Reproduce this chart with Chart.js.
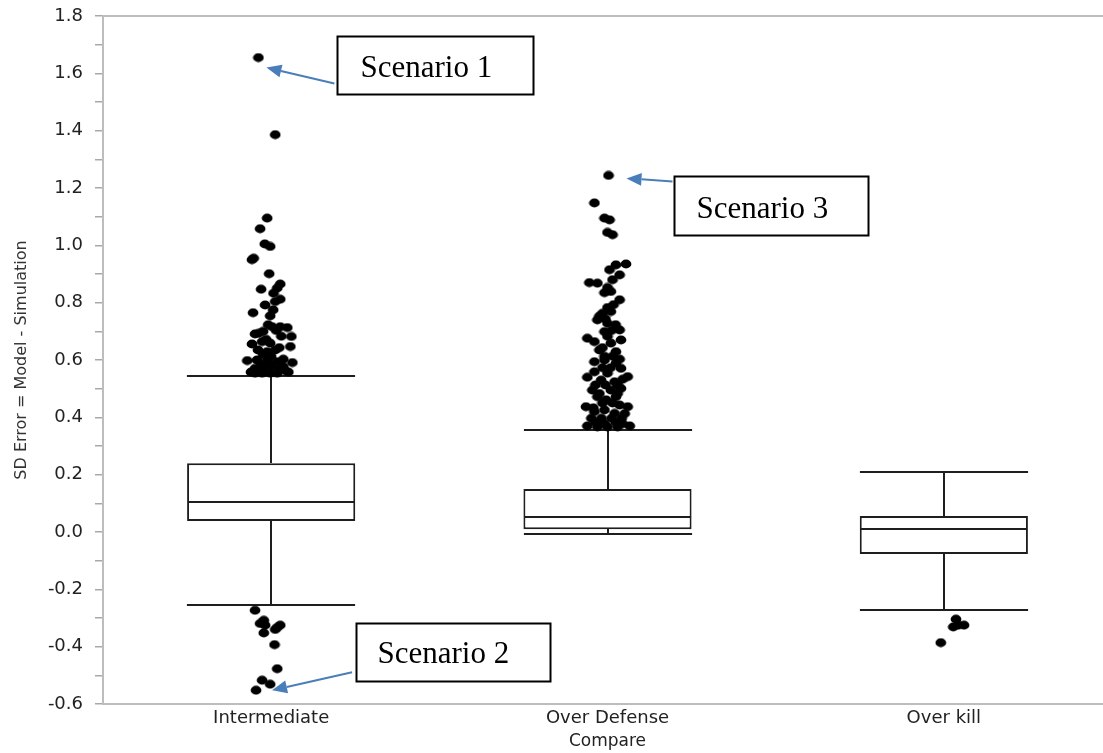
<!DOCTYPE html>
<html>
<head>
<meta charset="utf-8">
<script src="https://cdn.jsdelivr.net/npm/chart.js@4.4.1/dist/chart.umd.min.js"></script>
<style>
  html, body { margin: 0; padding: 0; overflow: hidden; background: #fff; }
  #wrap { width: 1118px; height: 753px; }
  canvas { display: block; }
</style>
</head>
<body>
<div id="wrap"><canvas id="chart" width="1118" height="753"></canvas></div>
<script>
// Groups on the x axis
const categories = ['Intermediate', 'Over Defense', 'Over kill'];

// Box-plot summary per group
const lowerWhisker = [-0.255, -0.007, -0.272];
const quartile1    = [0.038, 0.010, -0.077];
const medians      = [0.106, 0.052, 0.009];
const quartile3    = [0.240, 0.150, 0.056];
const upperWhisker = [0.545, 0.356, 0.208];

// Outliers per group, with their horizontal jitter (fraction of a category width)
const intermediateOutliers = [
  1.655, 1.386, 1.095, 1.058, 1.005, 0.996, 0.955, 0.950, 0.901, 0.865, 0.851, 0.847, 0.833, 0.812,
  0.804, 0.792, 0.765, 0.775, 0.754, 0.716, 0.716, 0.713, 0.691, 0.693, 0.682, 0.656, 0.664, 0.659,
  0.647, 0.635, 0.629, 0.635, 0.598, 0.600, 0.600, 0.594, 0.591, 0.571, 0.571, 0.577, 0.571, 0.554,
  0.554, 0.554, 0.554, 0.620, 0.603, 0.583, 0.563, 0.612, 0.643, 0.672, 0.703, 0.723, 0.558, 0.558,
  0.587, 0.577, 0.700, 0.683,
  -0.273, -0.308, -0.319, -0.325, -0.325, -0.333, -0.340, -0.352, -0.393, -0.477, -0.517, -0.531, -0.552
];
const intermediateJitter = [
  -0.038, 0.012, -0.012, -0.033, -0.019, -0.003, -0.052, -0.057, -0.006, 0.027, 0.018, -0.030, 0.007, 0.027,
  0.012, -0.018, -0.054, 0.006, -0.003, 0.003, 0.027, 0.048, -0.048, -0.037, 0.060, -0.057, -0.027, -0.003,
  0.057, -0.039, -0.012, 0.012, -0.071, -0.042, -0.012, 0.018, 0.063, -0.048, -0.022, 0.003, 0.027, -0.048,
  -0.027, -0.003, 0.018, -0.024, 0.036, -0.030, 0.042, 0.000, 0.024, -0.015, 0.015, -0.009, -0.060, 0.051,
  -0.006, 0.036, -0.024, 0.030,
  -0.048, -0.022, -0.033, -0.018, 0.027, 0.018, 0.012, -0.022, 0.010, 0.018, -0.027, -0.003, -0.045
];

const overDefenseOutliers = [
  1.244, 1.148, 1.095, 1.089, 1.045, 1.037, 0.935, 0.932, 0.915, 0.897, 0.880, 0.870, 0.868, 0.835,
  0.839, 0.810, 0.763, 0.769, 0.740, 0.728, 0.705, 0.699, 0.676, 0.664, 0.670, 0.659, 0.635, 0.629,
  0.600, 0.594, 0.589, 0.571, 0.540, 0.559, 0.542, 0.554, 0.530, 0.524, 0.495, 0.495, 0.501, 0.472,
  0.461, 0.472, 0.437, 0.437, 0.420, 0.426, 0.414, 0.397, 0.397, 0.397, 0.397, 0.370, 0.367, 0.367,
  0.367, 0.370, 0.383, 0.383, 0.450, 0.450, 0.483, 0.483, 0.513, 0.513, 0.513, 0.573, 0.573, 0.613,
  0.613, 0.643, 0.683, 0.703, 0.723, 0.743, 0.783, 0.793, 0.753, 0.603, 0.533, 0.443, 0.413, 0.433,
  0.378, 0.378, 0.853
];
const overDefenseJitter = [
  0.003, -0.039, -0.009, 0.006, 0.000, 0.015, 0.055, 0.025, 0.006, 0.036, 0.015, -0.054, -0.030, -0.009,
  0.010, 0.036, -0.015, 0.010, -0.030, 0.000, 0.036, -0.009, -0.060, -0.039, 0.040, 0.010, -0.024, 0.025,
  -0.009, -0.039, 0.025, 0.040, -0.060, -0.039, 0.060, 0.000, -0.019, 0.021, -0.045, 0.010, 0.040, -0.030,
  -0.004, 0.025, -0.064, 0.060, -0.039, -0.009, 0.021, -0.048, -0.018, 0.012, 0.042, -0.060, -0.030, 0.000,
  0.030, 0.066, -0.036, 0.024, -0.015, 0.015, -0.024, 0.030, -0.006, 0.030, -0.036, -0.015, 0.009, -0.009,
  0.015, -0.015, 0.000, 0.012, 0.024, -0.006, 0.000, 0.018, -0.024, 0.036, 0.045, 0.036, 0.051, -0.042,
  -0.009, 0.045, 0.000
];

const overKillOutliers = [-0.304, -0.331, -0.325, -0.325, -0.386];
const overKillJitter   = [0.036, 0.028, 0.043, 0.060, -0.009];

// Y axis range and tick spacing
const yMin = -0.6, yMax = 1.8, yStep = 0.1;

const outlierSets = [
  [intermediateOutliers, intermediateJitter],
  [overDefenseOutliers, overDefenseJitter],
  [overKillOutliers, overKillJitter]
];

const outlierPoints = [];
outlierSets.forEach(([vals, jit], i) => {
  vals.forEach((v, k) => outlierPoints.push({ x: i + jit[k], y: v }));
});

// Callout boxes: pointing at a given outlier (group index, position in that group's list)
const callouts = [
  { text: 'Scenario 1', group: 0, index: 0, tip: [8, 10], tail: [76, 26], box: [79, -22, 196, 58], textAt: [23, 40] },
  { text: 'Scenario 3', group: 1, index: 0, tip: [18, 3], tail: [64, 6], box: [65, 1, 194, 59], textAt: [22, 41] },
  { text: 'Scenario 2', group: 0, index: intermediateOutliers.length - 1, tip: [16, 0], tail: [96, -18], box: [100, -67, 194, 58], textAt: [21, 39] }
];

// Slightly wide oval dot used for outliers
function makeDot() {
  const c = document.createElement('canvas');
  c.width = 12; c.height = 10;
  const g = c.getContext('2d');
  g.fillStyle = '#000';
  g.beginPath();
  g.ellipse(6, 5, 5.4, 4.4, 0, 0, Math.PI * 2);
  g.fill();
  return c;
}

const LINE = '#1e1e1e';
const AXIS_GRAY = '#bdbdbd';
const TEXT = '#222222';

// Whiskers, caps and median lines, drawn right after the boxes
const whiskerPlugin = {
  id: 'whiskers',
  afterDatasetDraw(chart, args) {
    if (args.index !== 1) return;
    const { ctx } = chart;
    const y = chart.scales.y;
    const meta = chart.getDatasetMeta(1);
    ctx.save();
    ctx.strokeStyle = LINE;
    ctx.lineWidth = 2;
    ctx.lineCap = 'butt';
    meta.data.forEach((bar, i) => {
      const cx = Math.round(bar.x);
      const half = bar.width / 2;
      const yHi = Math.round(y.getPixelForValue(upperWhisker[i]));
      const yLo = Math.round(y.getPixelForValue(lowerWhisker[i]));
      const yQ3 = Math.round(y.getPixelForValue(quartile3[i]));
      const yQ1 = Math.round(y.getPixelForValue(quartile1[i]));
      const yMed = Math.round(y.getPixelForValue(medians[i]));
      ctx.beginPath();
      ctx.moveTo(cx, yQ3); ctx.lineTo(cx, yHi);
      ctx.moveTo(cx, yQ1); ctx.lineTo(cx, yLo);
      ctx.moveTo(cx - half, yHi); ctx.lineTo(cx + half, yHi);
      ctx.moveTo(cx - half, yLo); ctx.lineTo(cx + half, yLo);
      ctx.moveTo(cx - half + 1, yMed); ctx.lineTo(cx + half - 1, yMed);
      ctx.stroke();
    });
    ctx.restore();
  }
};

// Top frame line of the plot area
const framePlugin = {
  id: 'frame',
  beforeDatasetsDraw(chart) {
    const { ctx, chartArea } = chart;
    ctx.save();
    ctx.strokeStyle = AXIS_GRAY;
    ctx.lineWidth = 2;
    ctx.beginPath();
    ctx.moveTo(chartArea.left, chartArea.top);
    ctx.lineTo(chartArea.right, chartArea.top);
    ctx.stroke();
    ctx.restore();
  }
};

// Labelled callout boxes with blue arrows
const calloutPlugin = {
  id: 'callouts',
  afterDraw(chart) {
    const { ctx } = chart;
    const xs = chart.scales.xd, ys = chart.scales.y;
    ctx.save();
    callouts.forEach(c => {
      const [vals, jit] = outlierSets[c.group];
      const px = xs.getPixelForValue(c.group + jit[c.index]);
      const py = ys.getPixelForValue(vals[c.index]);
      const tx = px + c.tip[0], ty = py + c.tip[1];
      const sx = px + c.tail[0], sy = py + c.tail[1];
      const ang = Math.atan2(ty - sy, tx - sx);
      const headLen = 15, headHalf = 6.5;
      const bx = tx - headLen * Math.cos(ang), by = ty - headLen * Math.sin(ang);
      ctx.strokeStyle = '#4a7ebb';
      ctx.fillStyle = '#4a7ebb';
      ctx.lineWidth = 2;
      ctx.beginPath();
      ctx.moveTo(sx, sy);
      ctx.lineTo(bx, by);
      ctx.stroke();
      ctx.beginPath();
      ctx.moveTo(tx, ty);
      ctx.lineTo(bx + headHalf * Math.sin(ang), by - headHalf * Math.cos(ang));
      ctx.lineTo(bx - headHalf * Math.sin(ang), by + headHalf * Math.cos(ang));
      ctx.closePath();
      ctx.fill();

      const [ox, oy, w, h] = c.box;
      const rx = Math.round(px + ox) + 0.5, ry = Math.round(py + oy) + 0.5;
      ctx.fillStyle = '#fff';
      ctx.fillRect(rx, ry, w, h);
      ctx.strokeStyle = '#000';
      ctx.lineWidth = 2;
      ctx.strokeRect(rx, ry, w, h);
      ctx.fillStyle = '#000';
      ctx.font = '31px "Liberation Serif", "Times New Roman", serif';
      ctx.textAlign = 'left';
      ctx.textBaseline = 'alphabetic';
      ctx.fillText(c.text, rx + c.textAt[0], ry + c.textAt[1]);
    });
    ctx.restore();
  }
};

new Chart(document.getElementById('chart'), {
  type: 'bar',
  data: {
    labels: categories,
    datasets: [
      {
        type: 'scatter',
        data: outlierPoints,
        xAxisID: 'xd',
        yAxisID: 'y',
        pointStyle: makeDot(),
        pointRadius: 5,
        backgroundColor: '#000',
        borderColor: '#000'
      },
      {
        type: 'bar',
        data: categories.map((_, i) => [quartile1[i], quartile3[i]]),
        xAxisID: 'x',
        yAxisID: 'y',
        grouped: false,
        backgroundColor: '#fff',
        borderColor: LINE,
        borderWidth: 2,
        borderSkipped: false,
        barPercentage: 0.5,
        categoryPercentage: 1
      }
    ]
  },
  options: {
    responsive: false,
    animation: false,
    events: [],
    layout: { padding: { top: 16, left: 0, right: 0, bottom: 0 } },
    plugins: { legend: { display: false }, tooltip: { enabled: false } },
    scales: {
      x: {
        type: 'category',
        offset: true,
        grid: { display: false, drawTicks: false, tickLength: 0 },
        border: { display: true, color: AXIS_GRAY, width: 2 },
        ticks: { color: TEXT, font: { family: 'DejaVu Sans', size: 18 }, padding: 4, maxRotation: 0 },
        title: {
          display: true, text: 'Compare', color: TEXT,
          font: { family: 'DejaVu Sans', size: 17 }, padding: { top: 0, bottom: 1 }
        },
        afterFit(scale) {
          scale.height = 49;
          scale.paddingLeft = 0;
          scale.paddingRight = 0;
        }
      },
      xd: {
        type: 'linear',
        display: false,
        offset: false,
        grace: 0,
        min: -0.5,
        max: categories.length - 0.5
      },
      y: {
        type: 'linear',
        min: yMin,
        max: yMax,
        grid: { drawOnChartArea: false, drawTicks: true, tickLength: 8, color: '#a8a8a8', lineWidth: 1.5 },
        border: { display: true, color: AXIS_GRAY, width: 2 },
        ticks: {
          stepSize: yStep,
          autoSkip: false,
          padding: 12,
          color: TEXT,
          font: { family: 'DejaVu Sans', size: 18 },
          callback: (v) => {
            const k = Math.round(v * 10);
            return k % 2 === 0 ? (k / 10).toFixed(1) : '';
          }
        },
        title: {
          display: true, text: 'SD Error = Model - Simulation', color: '#333',
          font: { family: 'DejaVu Sans', size: 16 }, padding: { top: 12, bottom: 0 }
        },
        afterFit(scale) {
          scale.width = 103;
          scale.paddingTop = 0;
          scale.paddingBottom = 0;
        }
      }
    }
  },
  plugins: [framePlugin, whiskerPlugin, calloutPlugin]
});
</script>
</body>
</html>
